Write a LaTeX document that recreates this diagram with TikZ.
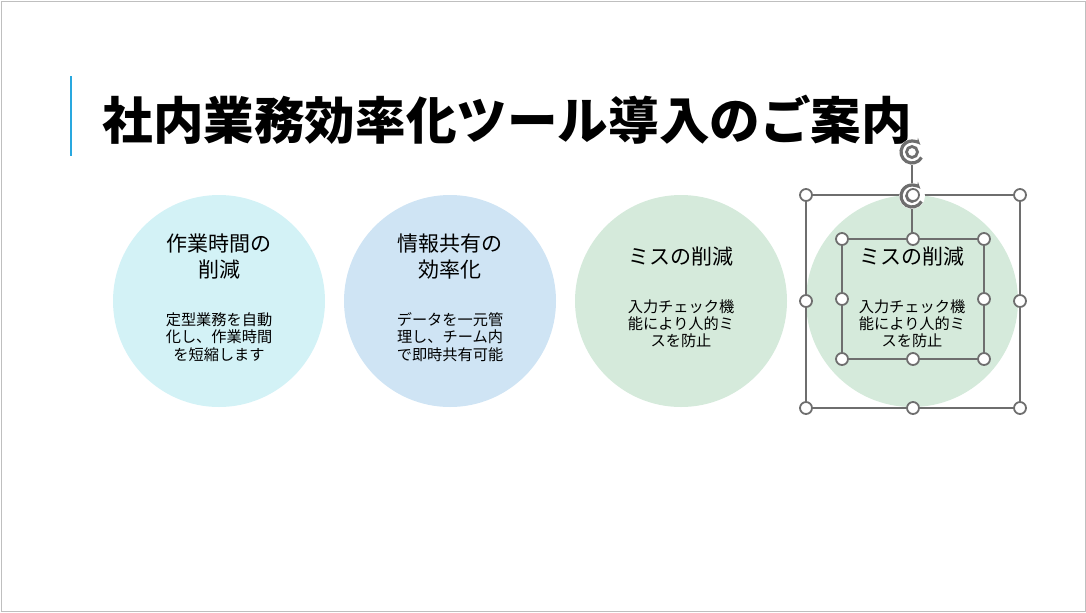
\documentclass[tikz,border=0pt]{standalone}
\usepackage{fontspec}
\newfontfamily\jp{Noto Sans CJK JP}
\newfontfamily\jpb{Noto Sans CJK JP Black}
\usetikzlibrary{arrows.meta}
\definecolor{cA}{HTML}{D3F2F6}
\definecolor{cB}{HTML}{CFE4F4}
\definecolor{cC}{HTML}{D5EADB}
\definecolor{accent}{HTML}{29A8DF}
\definecolor{sel}{HTML}{6E6E6E}
\tikzset{
 circ/.style={circle,minimum size=106pt,inner sep=0pt},
 head/.style={font=\jp\fontsize{10.5}{13}\selectfont,align=center,text=black},
 body/.style={font=\jp\fontsize{7.6}{8.6}\selectfont,align=center,text=black},
 hnd/.style={circle,draw=sel,fill=white,line width=0.9pt,minimum size=6pt,inner sep=0pt},
 rot/.style={draw=sel,line width=1.6pt,-{Stealth[length=3.5pt]}}
}
\begin{document}
\begin{tikzpicture}[x=0.5pt,y=-0.5pt]
\useasboundingbox (0,0) rectangle (1086,612);
\draw[gray!50,line width=0.5pt] (1,1) rectangle (1085,611);
\draw[accent,line width=1pt] (71,76) -- (71,156);
\node[anchor=west,font=\jpb\fontsize{25.3}{28}\selectfont,inner sep=0pt] (title) at (102,120) {社内業務効率化ツール導入のご案内};
\node[circ,fill=cA] (c1) at (219,301) {};
\node[circ,fill=cB] (c2) at (450,301) {};
\node[circ,fill=cC] (c3) at (681,301) {};
\node[circ,fill=cC] (c4) at (912,301) {};
\node[head] (h1) at (219,257) {作業時間の\\削減};
\node[body] (b1) at (219,337) {定型業務を自動\\化し、作業時間\\を短縮します};
\node[head] (h2) at (450,257) {情報共有の\\効率化};
\node[body] (b2) at (450,337) {データを一元管\\理し、チーム内\\で即時共有可能};
\node[head] (h3) at (681,257) {ミスの削減};
\node[body] (b3) at (681,324) {入力チェック機\\能により人的ミ\\スを防止};
\node[head] (h4) at (912,257) {ミスの削減};
\node[body] (b4) at (912,324) {入力チェック機\\能により人的ミ\\スを防止};
% selection
\coordinate (o1) at (806,195); \coordinate (o2) at (1020,408);
\coordinate (i1) at (842,239); \coordinate (i2) at (984,359);
\draw[sel,line width=0.6pt] (o1) rectangle (o2);
\draw[sel,line width=0.6pt] (i1) rectangle (i2);
\coordinate (r1) at (912,152); \coordinate (r2) at (912,196);
\draw[sel,line width=0.6pt] (912,162) -- (912,239);
\foreach \p in {r1,r2}{
 \fill[white] (\p) circle[radius=13];
 \draw[rot] ([shift={(30:11)}]\p) arc[start angle=30,end angle=320,radius=11];
 \draw[sel,line width=1.4pt] (\p) circle[radius=5.5];}
\foreach \x/\y [count=\i] in {806/195,913/195,1020/195,806/301,1020/301,806/408,913/408,1020/408}{\node[hnd] (ho\i) at (\x,\y) {};}
\foreach \x/\y [count=\i] in {842/239,913/239,984/239,842/299,984/299,842/359,913/359,984/359}{\node[hnd] (hi\i) at (\x,\y) {};}
\end{tikzpicture}
\end{document}
